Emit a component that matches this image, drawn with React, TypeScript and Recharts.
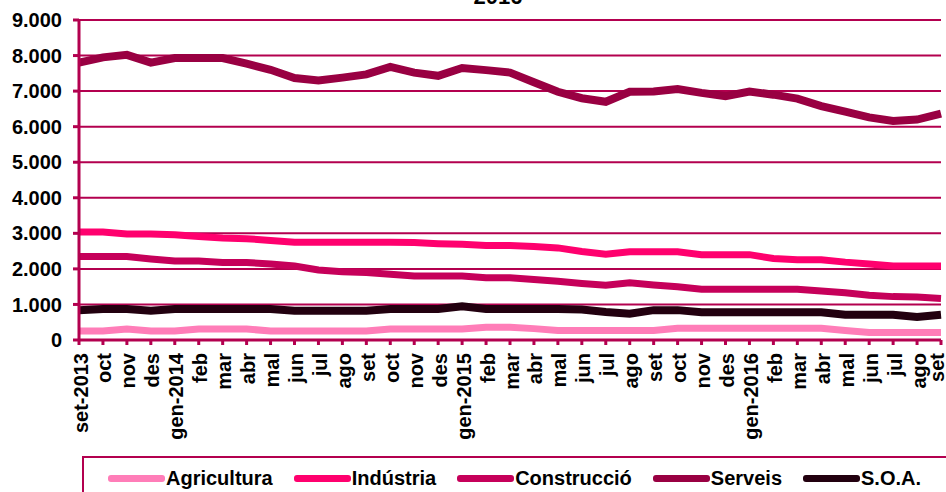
import { LineChart, Line, XAxis, YAxis, CartesianGrid, Legend } from 'recharts';

const months = [
  'set-2013', 'oct', 'nov', 'des', 'gen-2014', 'feb', 'mar', 'abr', 'mal', 'jun', 'jul', 'ago',
  'set', 'oct', 'nov', 'des', 'gen-2015', 'feb', 'mar', 'abr', 'mal', 'jun', 'jul', 'ago',
  'set', 'oct', 'nov', 'des', 'gen-2016', 'feb', 'mar', 'abr', 'mal', 'jun', 'jul', 'ago', 'set',
];

const agricultura = [
  250, 250, 310, 250, 250, 310, 310, 310, 250, 250, 250, 250, 250, 310, 310, 310, 310, 360, 360,
  320, 270, 270, 270, 270, 270, 330, 330, 330, 330, 330, 330, 330, 270, 210, 210, 210, 210,
];
const industria = [
  3040, 3040, 2980, 2980, 2960, 2910, 2870, 2850, 2800, 2750, 2750, 2750, 2750, 2750, 2740, 2710, 2690, 2660, 2660,
  2630, 2590, 2490, 2410, 2480, 2480, 2480, 2400, 2400, 2400, 2290, 2260, 2260, 2190, 2140, 2080, 2080, 2080,
];
const construccio = [
  2350, 2350, 2350, 2280, 2220, 2220, 2180, 2180, 2140, 2080, 1970, 1920, 1900, 1850, 1800, 1800, 1800, 1750, 1750,
  1700, 1650, 1590, 1540, 1610, 1550, 1500, 1430, 1430, 1430, 1430, 1430, 1380, 1330, 1260, 1220, 1210, 1170,
];
const serveis = [
  7800, 7950, 8020, 7800, 7930, 7930, 7930, 7770, 7600, 7370, 7300, 7380, 7470, 7680, 7520, 7430, 7650, 7590, 7520,
  7250, 6980, 6800, 6700, 6980, 6990, 7060, 6950, 6860, 6990, 6900, 6790, 6580, 6420, 6260, 6160, 6200, 6370,
];
const soa = [
  840, 870, 870, 820, 870, 870, 870, 870, 870, 820, 820, 820, 820, 870, 870, 870, 950, 870, 870,
  870, 870, 860, 790, 740, 840, 840, 780, 780, 780, 780, 780, 780, 710, 710, 710, 650, 710,
];

const yTicks = [0, 1000, 2000, 3000, 4000, 5000, 6000, 7000, 8000, 9000];

const data = months.map((m, i) => ({
  i,
  Agricultura: agricultura[i],
  'Indústria': industria[i],
  'Construcció': construccio[i],
  Serveis: serveis[i],
  'S.O.A.': soa[i],
}));

const AXIS = '#B3004F';
const FONT = '"Liberation Sans", Arial, sans-serif';

const series = [
  { key: 'Agricultura', color: '#FF7DB8', width: 7 },
  { key: 'Indústria', color: '#FF006E', width: 7 },
  { key: 'Construcció', color: '#C6005A', width: 7 },
  { key: 'Serveis', color: '#990042', width: 8 },
  { key: 'S.O.A.', color: '#22000F', width: 8 },
];

const fmtY = (v: number) => (v === 0 ? '0' : `${v / 1000}.000`);

function MonthTick(props: any) {
  const { x, y, payload } = props;
  // last label is nudged left so it stays on the page
  const last = payload.value === months.length - 1;
  return (
    <text
      x={x}
      y={y}
      dy={last ? -4 : 1.5}
      transform={`rotate(-90 ${x} ${y})`}
      textAnchor="end"
      dominantBaseline="central"
      fontFamily={FONT}
      fontWeight="bold"
      fontSize={20}
      fill="#000"
    >
      {months[payload.value]}
    </text>
  );
}

// legend box: only top and left borders show, the rest runs off the page
function LegendBox() {
  return (
    <div
      style={{
        width: 900,
        height: 60,
        boxSizing: 'border-box',
        borderTop: `2px solid ${AXIS}`,
        borderLeft: `2px solid ${AXIS}`,
        position: 'relative',
      }}
    >
      <div
        style={{
          position: 'absolute',
          left: 24,
          top: 9,
          height: 22,
          display: 'flex',
          alignItems: 'center',
          fontFamily: FONT,
          fontWeight: 'bold',
          fontSize: 20,
          lineHeight: '22px',
          color: '#000',
          whiteSpace: 'nowrap',
        }}
      >
        {series.map((s) => (
          <div key={s.key} style={{ display: 'flex', alignItems: 'center', marginRight: 21 }}>
            <span
              style={{
                display: 'inline-block',
                width: 57,
                height: 7,
                borderRadius: 3,
                background: s.color,
                marginRight: 1,
              }}
            />
            <span>{s.key}</span>
          </div>
        ))}
      </div>
    </div>
  );
}

export default function App() {
  return (
    <div
      style={{
        position: 'absolute',
        left: 0,
        top: 0,
        width: 946,
        height: 492,
        overflow: 'hidden',
        background: '#fff',
      }}
    >
      <LineChart width={946} height={492} data={data} margin={{ top: 20, right: 5, left: 0, bottom: 0 }}>
        <CartesianGrid vertical={false} stroke={AXIS} strokeWidth={2} />
        <XAxis
          dataKey="i"
          type="category"
          interval={0}
          height={152}
          tickSize={5}
          tickMargin={8}
          tick={<MonthTick />}
          tickLine={{ stroke: AXIS, strokeWidth: 3 }}
          axisLine={{ stroke: AXIS, strokeWidth: 3 }}
        />
        <YAxis
          domain={[0, 9000]}
          ticks={yTicks}
          width={79}
          tickSize={6}
          tickMargin={11}
          tickFormatter={fmtY}
          tick={{ fill: '#000', fontSize: 20, fontWeight: 'bold', fontFamily: FONT }}
          tickLine={{ stroke: AXIS, strokeWidth: 3 }}
          axisLine={{ stroke: AXIS, strokeWidth: 3 }}
        />
        <Legend
          verticalAlign="middle"
          content={<LegendBox />}
          wrapperStyle={{ left: 82, top: 456, width: 900, height: 60 }}
        />
        {series.map((s) => (
          <Line
            key={s.key}
            type="linear"
            dataKey={s.key}
            stroke={s.color}
            strokeWidth={s.width}
            dot={false}
            isAnimationActive={false}
          />
        ))}
      </LineChart>
      <div
        style={{
          position: 'absolute',
          left: 448,
          top: -14,
          width: 100,
          textAlign: 'center',
          fontFamily: FONT,
          fontWeight: 'bold',
          fontSize: 22,
          lineHeight: '22px',
          color: '#000',
        }}
      >
        2016
      </div>
    </div>
  );
}
